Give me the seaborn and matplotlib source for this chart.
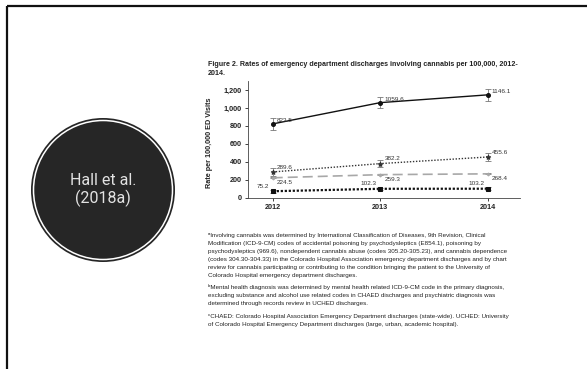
import numpy as np
import pandas as pd
import matplotlib
matplotlib.use("Agg")
import matplotlib.pyplot as plt
from matplotlib.patches import Circle
import seaborn as sns

# data
years = [2012, 2013, 2014]
total_rate = [823.5, 1059.6, 1146.1]
total_err = [65, 60, 65]
mental_rate = [289.6, 382.2, 455.6]
mental_err = [40, 40, 45]
chaed_rate = [224.5, 259.3, 268.4]
chaed_err = [5, 5, 5]
uched_rate = [75.2, 102.3, 103.2]
uched_err = [15, 14, 14]
y_ticks = [0, 200, 400, 600, 800, 1000, 1200]

citation = "Hall et al.\n(2018a)"
fig_title = ("Figure 2. Rates of emergency department discharges involving cannabis per 100,000, 2012-\n"
             "2014.")
note_a = ("\u1d43Involving cannabis was determined by International Classification of Diseases, 9th Revision, Clinical\n"
          "Modification (ICD-9-CM) codes of accidental poisoning by psychodysleptics (E854.1), poisoning by\n"
          "psychodysleptics (969.6), nondependent cannabis abuse (codes 305.20-305.23), and cannabis dependence\n"
          "(codes 304.30-304.33) in the Colorado Hospital Association emergency department discharges and by chart\n"
          "review for cannabis participating or contributing to the condition bringing the patient to the University of\n"
          "Colorado Hospital emergency department discharges.")
note_b = ("\u1d47Mental health diagnosis was determined by mental health related ICD-9-CM code in the primary diagnosis,\n"
          "excluding substance and alcohol use related codes in CHAED discharges and psychiatric diagnosis was\n"
          "determined through records review in UCHED discharges.")
note_c = ("\u1d9cCHAED: Colorado Hospital Association Emergency Department discharges (state-wide). UCHED: University\n"
          "of Colorado Hospital Emergency Department discharges (large, urban, academic hospital).")

sns.set_style("ticks")
plt.rcParams['font.family'] = ['Liberation Sans', 'DejaVu Sans']

W, H = 587, 369
fig = plt.figure(figsize=(W / 100, H / 100), dpi=100)
fig.patch.set_facecolor('white')

# slide background in pixel coordinates
bg = fig.add_axes([0, 0, 1, 1])
bg.set_xlim(0, W)
bg.set_ylim(H, 0)
bg.axis('off')
bg.plot([7, W], [6, 6], color='#111111', lw=1.6, solid_capstyle='butt')
bg.plot([7, 7], [6, H], color='#111111', lw=1.6, solid_capstyle='butt')
bg.add_patch(Circle((103, 190), 72, facecolor='#262626', edgecolor='none'))
bg.add_patch(Circle((103, 190), 69.5, facecolor='none', edgecolor='white', lw=1.1))
bg.text(103, 190, citation, ha='center', va='center', color='#e2e2e2',
        fontsize=11.5, family=['Roboto', 'DejaVu Sans'], linespacing=1.1)

txt = '#222222'
bg.text(208, 61, fig_title, ha='left', va='top', fontsize=5.1, fontweight='bold',
        color=txt, linespacing=1.35)
for y0, note in [(233, note_a), (284, note_b), (314, note_c)]:
    bg.text(208, y0, note, ha='left', va='top', fontsize=4.5, color=txt, linespacing=1.75)

# embedded chart
ax = fig.add_axes([248 / W, 1 - 198 / H, (520 - 248) / W, 117 / H])
ax.set_facecolor('none')

series = [
    (total_rate, total_err, dict(color='#111111', linestyle='-', lw=1.0, marker='o', ms=2.8)),
    (mental_rate, mental_err, dict(color='#333333', linestyle=(0, (1, 1.2)), lw=1.0, marker='*', ms=3.5)),
    (chaed_rate, chaed_err, dict(color='#a8a8a8', linestyle=(0, (6, 3)), lw=1.2, marker='D', ms=1.5)),
    (uched_rate, uched_err, dict(color='#111111', linestyle=(0, (1, 0.8)), lw=1.6, marker='s', ms=2.8)),
]
for vals, err, style in series:
    df = pd.DataFrame({'year': years, 'rate': vals})
    sns.lineplot(data=df, x='year', y='rate', ax=ax, color=style['color'],
                 linestyle=style['linestyle'], lw=style['lw'], marker=style['marker'],
                 markersize=style['ms'], markeredgecolor=style['color'], zorder=3)
    ax.errorbar(years, vals, yerr=err, fmt='none', ecolor='#777777', elinewidth=0.6,
                capsize=2.2, capthick=0.6, zorder=2)

lab = dict(fontsize=4.6, color='#333333')
for x, v in zip(years, total_rate):
    ax.annotate(f"{v}", (x, v), xytext=(3, 2.5), textcoords='offset points', ha='left', va='center', **lab)
for x, v in zip(years, mental_rate):
    ax.annotate(f"{v}", (x, v), xytext=(3, 3.5), textcoords='offset points', ha='left', va='center', **lab)
for x, v in zip(years, chaed_rate):
    ax.annotate(f"{v}", (x, v), xytext=(3, -3.5), textcoords='offset points', ha='left', va='center', **lab)
for x, v in zip(years, uched_rate):
    ax.annotate(f"{v}", (x, v), xytext=(-2.5, 3.5), textcoords='offset points', ha='right', va='center', **lab)

ax.set_xlim(2011.77, 2014.3)
ax.set_ylim(0, 1300)
ax.set_xticks(years)
ax.set_yticks(y_ticks)
ax.set_yticklabels([f"{t:,}" for t in y_ticks])
ax.tick_params(axis='both', labelsize=5.2, length=2.5, width=0.6, pad=2, colors=txt)
for t in ax.get_xticklabels() + ax.get_yticklabels():
    t.set_fontweight('bold')
ax.set_xlabel('')
ax.set_ylabel('Rate per 100,000 ED Visits', fontsize=5.2, fontweight='bold', color=txt)
ax.yaxis.set_label_coords(-0.13, 0.47)
sns.despine(ax=ax)
for s in ['left', 'bottom']:
    ax.spines[s].set_linewidth(0.6)
    ax.spines[s].set_color('#444444')

fig.savefig('out.png', dpi=100)
